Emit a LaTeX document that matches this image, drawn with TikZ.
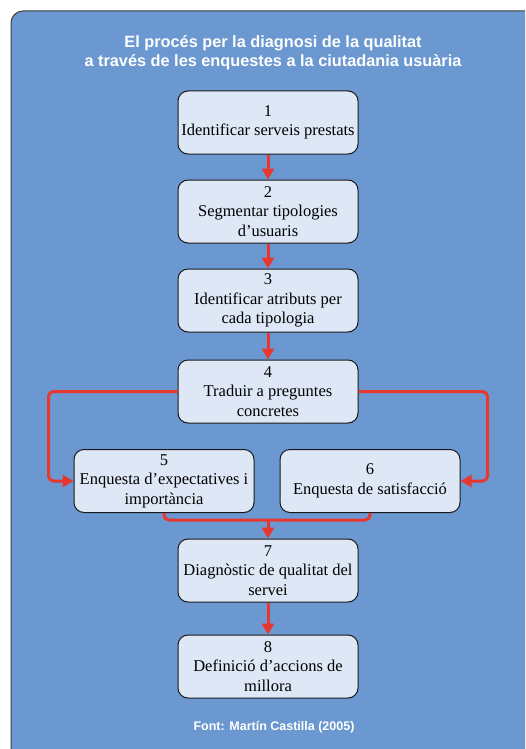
\documentclass[tikz,border=0pt]{standalone}
\usepackage{fontspec}
\setmainfont{Liberation Serif}
\newfontfamily\headfont{Liberation Sans}
\usetikzlibrary{arrows.meta}
\definecolor{panelblue}{RGB}{107,152,208}
\definecolor{boxfill}{RGB}{221,231,245}
\definecolor{flowred}{RGB}{232,55,46}
\definecolor{edgegray}{RGB}{60,60,60}
\begin{document}
\begin{tikzpicture}[x=1pt,y=-1pt,
  stepbox/.style={draw=black!90,line width=1pt,fill=boxfill,rounded corners=10pt,
    minimum width=180pt,minimum height=63pt,align=center,inner sep=1pt,
    font=\fontsize{16.5}{19.5}\selectfont},
  flow/.style={draw=flowred,line width=3pt,rounded corners=5pt,
    -{Triangle[width=12pt,length=11pt]}},
  joint/.style={draw=flowred,line width=3pt,rounded corners=5pt}]
\useasboundingbox (0,0) rectangle (525,749);
\begin{scope}
  \clip (0,0) rectangle (525,749);
  \fill[white] (0,0) rectangle (525,749);
  \draw[fill=panelblue,draw=edgegray,line width=1pt,rounded corners=12pt]
    (11,760) -- (11,11) -- (540,11) -- (540,760);
\end{scope}
% title and source
\node[text=white,align=center,font=\headfont\bfseries\fontsize{16.3}{19}\selectfont]
  (title) at (273,53) {El procés per la diagnosi de la qualitat\\a través de les enquestes a la ciutadania usuària};
\node[text=white,font=\headfont\bfseries\fontsize{12.5}{14}\selectfont]
  (source) at (274,727) {Font: Martín Castilla (2005)};
% steps
\node[stepbox] (s1) at (268,122.5) {1\\Identificar serveis prestats};
\node[stepbox] (s2) at (268,211.5) {2\\Segmentar tipologies\\d’usuaris};
\node[stepbox] (s3) at (268,300.5) {3\\Identificar atributs per\\cada tipologia};
\node[stepbox] (s4) at (268,391.5) {4\\Traduir a preguntes\\concretes};
\node[stepbox] (s5) at (164,481) {5\\Enquesta d’expectatives i\\importància};
\node[stepbox] (s6) at (370,481) {6\\Enquesta de satisfacció};
\node[stepbox] (s7) at (268,570.5) {7\\Diagnòstic de qualitat del\\servei};
\node[stepbox] (s8) at (268,666.5) {8\\Definició d’accions de\\millora};
% connectors
\coordinate (m) at (268,520);
\draw[flow] (s1) -- (s2);
\draw[flow] (s2) -- (s3);
\draw[flow] (s3) -- (s4);
\draw[flow] (s4.west) -- ++(-129,0) |- (s5.west);
\draw[flow] (s4.east) -- ++(129,0) |- (s6.east);
\draw[joint] (s5.south) |- (m);
\draw[joint] (s6.south) |- (m);
\draw[flow] (m) -- (s7);
\draw[flow] (s7) -- (s8);
\end{tikzpicture}
\end{document}
